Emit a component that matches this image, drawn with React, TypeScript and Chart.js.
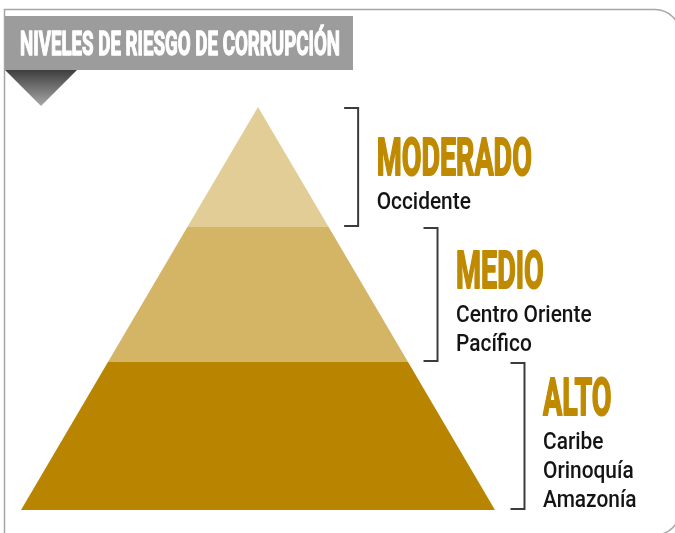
import React, { useEffect, useRef } from "react";
import { Chart, registerables } from "chart.js";

Chart.register(...registerables);

// ---- data ----
const title = "NIVELES DE RIESGO DE CORRUPCIÓN";
const levels = ["ALTO", "MEDIO", "MODERADO"]; // bottom -> top
const regions = [["Caribe", "Orinoquía", "Amazonía"], ["Centro Oriente", "Pacífico"], ["Occidente"]];
const tierBounds = [0, 36.7, 70.2, 100]; // heights (base -> apex)
const baseHalfWidth = 100;

// ---- styles ----
const tierColors = ["#b98500", "#d4b465", "#e3cd97"];
const levelColor = "#bf8a00";
const textColor = "#141414";
const bracketColor = "#3c3c3c";

const halfWidthAt = (h: number) => baseHalfWidth * (1 - h / 100);

function drawScaledText(
  ctx: CanvasRenderingContext2D,
  text: string,
  x: number,
  y: number,
  font: string,
  sx: number,
  color: string,
  strokeW = 0
) {
  ctx.save();
  ctx.font = font;
  ctx.fillStyle = color;
  ctx.strokeStyle = color;
  ctx.textBaseline = "alphabetic";
  ctx.textAlign = "left";
  ctx.translate(x, y);
  ctx.scale(sx, 1);
  ctx.fillText(text, 0, 0);
  if (strokeW > 0) {
    ctx.lineWidth = strokeW;
    ctx.lineJoin = "round";
    ctx.strokeText(text, 0, 0);
  }
  ctx.restore();
}

const decorPlugin = {
  id: "decor",
  beforeDraw(chart: any) {
    const ctx = chart.ctx as CanvasRenderingContext2D;
    ctx.save();
    ctx.fillStyle = "#ffffff";
    ctx.fillRect(0, 0, chart.width, chart.height);
    // frame
    ctx.strokeStyle = "#a6a6a6";
    ctx.lineWidth = 1.5;
    ctx.beginPath();
    ctx.moveTo(4.5, 545);
    ctx.lineTo(4.5, 9.5);
    ctx.lineTo(655, 9.5);
    ctx.arcTo(680, 9.5, 680, 35, 25);
    ctx.lineTo(680, 510);
    ctx.arcTo(680, 535, 655, 535, 25);
    ctx.lineTo(4.5, 535);
    ctx.stroke();
    // header box
    ctx.fillStyle = "#9c9c9d";
    ctx.fillRect(5, 16, 348, 54);
    // header triangle
    const g = ctx.createLinearGradient(0, 70, 0, 106);
    g.addColorStop(0, "#3e3e3e");
    g.addColorStop(1, "#a8a8a8");
    ctx.fillStyle = g;
    ctx.beginPath();
    ctx.moveTo(5, 70);
    ctx.lineTo(77, 70);
    ctx.lineTo(41, 106);
    ctx.closePath();
    ctx.fill();
    ctx.restore();
  },
  afterDraw(chart: any) {
    const ctx = chart.ctx as CanvasRenderingContext2D;
    const xs = chart.scales.x;
    const ys = chart.scales.y;
    // header title, fitted to width
    ctx.save();
    const hFont = "bold 33px Roboto";
    ctx.font = hFont;
    const w = ctx.measureText(title).width;
    ctx.restore();
    drawScaledText(ctx, title, 20, 55, hFont, 320 / w, "#ffffff", 1.4);

    levels.forEach((lvl, i) => {
      const hb = tierBounds[i];
      const ht = tierBounds[i + 1];
      const yb = ys.getPixelForValue(hb);
      const yt = ys.getPixelForValue(ht);
      const bx = xs.getPixelForValue(halfWidthAt(hb)) + 29.5;
      // bracket
      ctx.save();
      ctx.strokeStyle = bracketColor;
      ctx.lineWidth = 2;
      ctx.beginPath();
      ctx.moveTo(bx - 14, yt + 1);
      ctx.lineTo(bx, yt + 1);
      ctx.lineTo(bx, yb - 1);
      ctx.lineTo(bx - 14, yb - 1);
      ctx.stroke();
      ctx.restore();
      // labels
      const lines = regions[i];
      const blockH = 37 + 34 + 29 * (lines.length - 1);
      const center = (yt + yb) / 2 + 6;
      const capTop = center - blockH / 2;
      const tx = bx + 18.5;
      let base = capTop + 37;
      drawScaledText(ctx, lvl, tx, base, "bold 52px Roboto", 0.55, levelColor, 2);
      base += 34;
      lines.forEach((ln) => {
        drawScaledText(ctx, ln, tx, base, "500 24px Roboto", 0.87, textColor);
        base += 29;
      });
    });
  },
};

export default function App() {
  const ref = useRef<HTMLCanvasElement>(null);
  useEffect(() => {
    if (!ref.current) return;
    const datasets = levels.map((lvl, i) => {
      const hb = tierBounds[i];
      const ht = tierBounds[i + 1];
      return {
        label: lvl,
        data: [
          { x: -halfWidthAt(hb), y: hb },
          { x: -halfWidthAt(ht), y: ht },
          { x: halfWidthAt(ht), y: ht },
          { x: halfWidthAt(hb), y: hb },
          { x: -halfWidthAt(hb), y: hb },
        ],
        backgroundColor: tierColors[i],
        borderColor: tierColors[i],
        borderWidth: 0,
        pointRadius: 0,
        fill: "shape",
        tension: 0,
      };
    });
    const chart = new Chart(ref.current, {
      type: "line",
      data: { datasets: datasets as any },
      options: {
        animation: false,
        responsive: false,
        devicePixelRatio: 1,
        layout: { padding: { left: 21, right: 180, top: 107, bottom: 23 } },
        scales: {
          x: { type: "linear", min: -baseHalfWidth, max: baseHalfWidth, display: false },
          y: { type: "linear", min: 0, max: 100, display: false },
        },
        plugins: { legend: { display: false }, tooltip: { enabled: false } },
      },
      plugins: [decorPlugin],
    });
    if ((document as any).fonts) {
      Promise.all([
        document.fonts.load("bold 52px Roboto"),
        document.fonts.load("500 24px Roboto"),
      ]).then(() => chart.update()).catch(() => {});
    }
    return () => chart.destroy();
  }, []);
  return (
    <div style={{ position: "fixed", left: 0, top: 0, width: 675, height: 533, background: "#fff" }}>
      <canvas ref={ref} width={675} height={533} style={{ display: "block" }} />
    </div>
  );
}
